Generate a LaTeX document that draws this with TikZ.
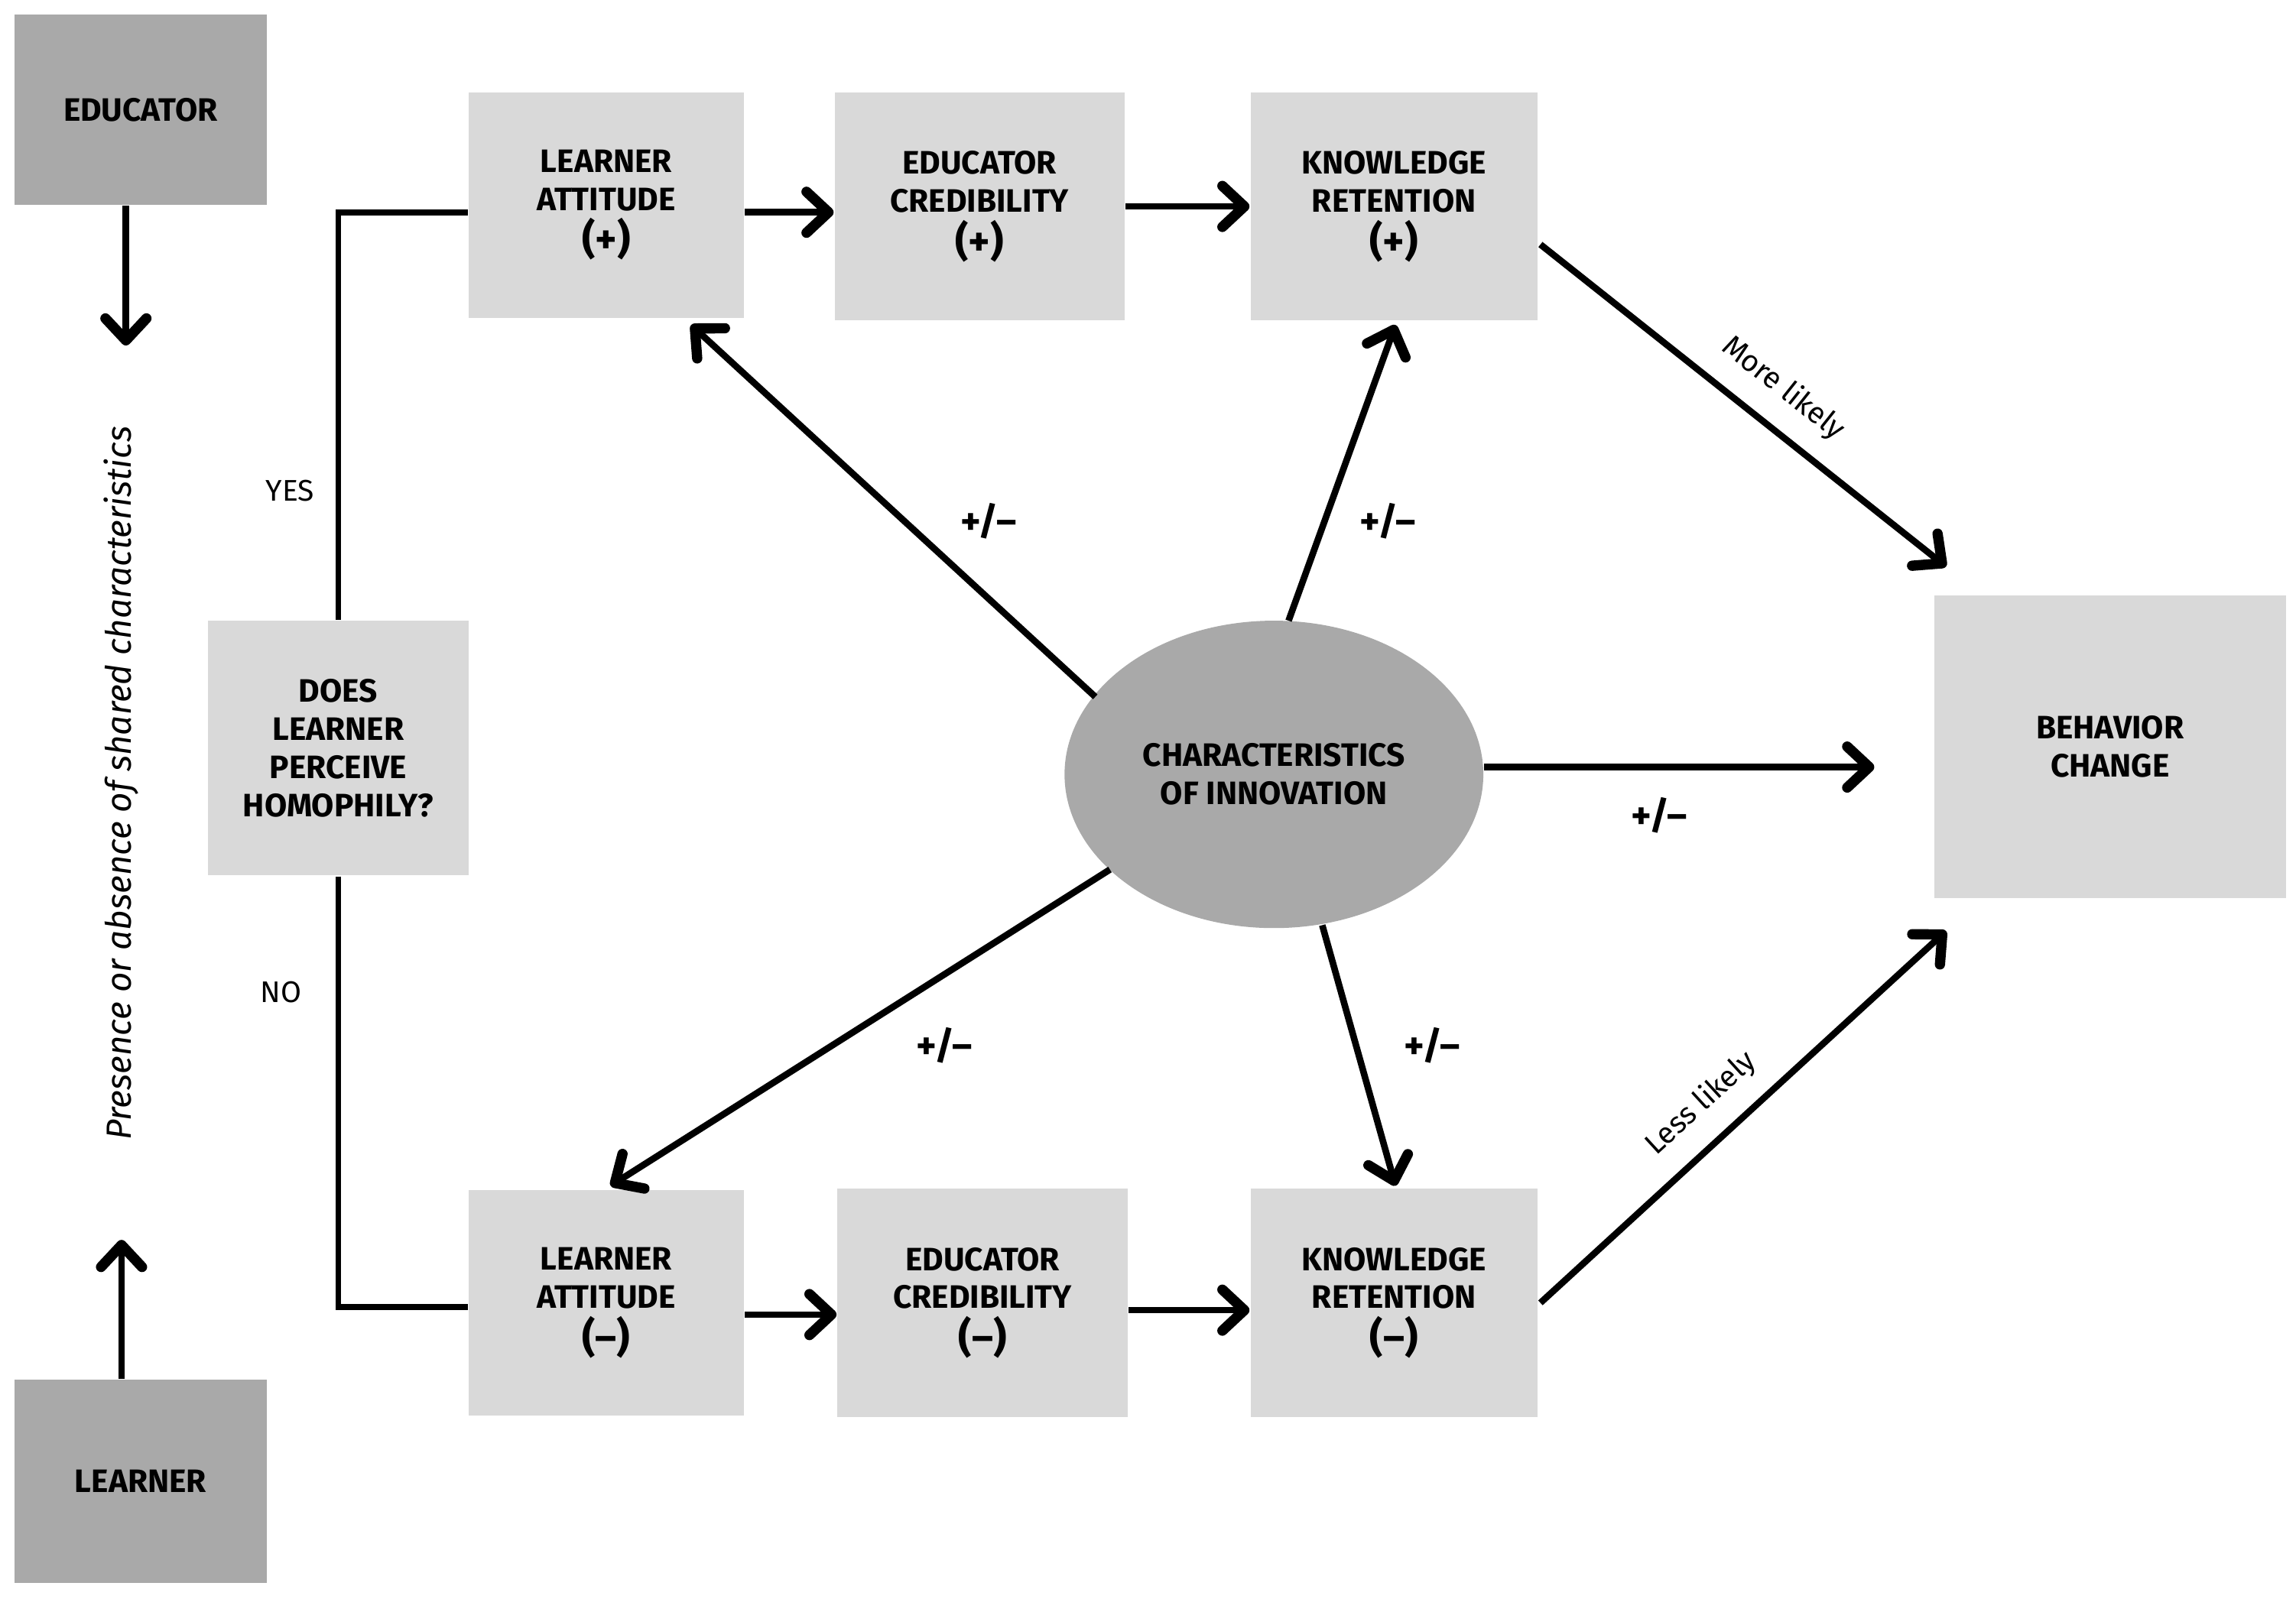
\documentclass[tikz,border=0pt]{standalone}
\usepackage{fontspec}
\setmainfont{Fira Sans}
\usetikzlibrary{arrows.meta,shapes.geometric}
\definecolor{dk}{HTML}{A9A9A9}
\definecolor{lt}{HTML}{D9D9D9}
\begin{document}
\begin{tikzpicture}[x=0.1mm,y=-0.1mm,
  box/.style={fill=lt,draw=none,align=center,font=\fontsize{6.3}{7.4}\selectfont\bfseries},
  dbox/.style={fill=dk,draw=none,align=center,font=\fontsize{6.3}{7.4}\selectfont\bfseries},
  ar/.style={line width=0.45mm,-{Straight Barb[length=1.5mm,width=2.8mm,line width=0.7mm,round]}},
  ln/.style={line width=0.4mm},
  pm/.style={font=\fontsize{7.5}{8}\selectfont\bfseries},
  lab/.style={font=\fontsize{5.8}{7}\selectfont}]
\useasboundingbox (0,0) rectangle (1568,1092);
\node[dbox,minimum width=17.2mm,minimum height=13mm] (edu) at (96,75) {EDUCATOR};
\node[dbox,minimum width=17.2mm,minimum height=13.9mm] (lrn) at (96,1012) {LEARNER};
\node[box,minimum width=18.8mm,minimum height=15.4mm] (la1) at (414,140) {LEARNER\\ATTITUDE\\[1pt]{\fontsize{8}{9}\selectfont (+)}};
\node[box,minimum width=19.8mm,minimum height=15.6mm] (ec1) at (669,141) {EDUCATOR\\CREDIBILITY\\[1pt]{\fontsize{8}{9}\selectfont (+)}};
\node[box,minimum width=19.6mm,minimum height=15.6mm] (kr1) at (952,141) {KNOWLEDGE\\RETENTION\\[1pt]{\fontsize{8}{9}\selectfont (+)}};
\node[box,minimum width=18.8mm,minimum height=15.4mm] (la2) at (414,890) {LEARNER\\ATTITUDE\\[1pt]{\fontsize{8}{9}\selectfont (–)}};
\node[box,minimum width=19.8mm,minimum height=15.6mm] (ec2) at (671,890) {EDUCATOR\\CREDIBILITY\\[1pt]{\fontsize{8}{9}\selectfont (–)}};
\node[box,minimum width=19.6mm,minimum height=15.6mm] (kr2) at (952,890) {KNOWLEDGE\\RETENTION\\[1pt]{\fontsize{8}{9}\selectfont (–)}};
\node[box,minimum width=17.8mm,minimum height=17.4mm] (hom) at (231,511) {DOES\\LEARNER\\PERCEIVE\\HOMOPHILY?};
\node[box,minimum width=24mm,minimum height=20.7mm] (bc) at (1441,510) {BEHAVIOR\\CHANGE};
\node[ellipse,fill=dk,minimum width=28.6mm,minimum height=21mm,inner sep=0pt,align=center,font=\fontsize{6.3}{7.4}\selectfont\bfseries] (ell) at (870,529) {CHARACTERISTICS\\OF INNOVATION};
\node[rotate=90,font=\fontsize{6.8}{8}\selectfont\itshape] (pres) at (83,535) {Presence or absence of shared characteristics};
\coordinate (e2) at (86,236);
\coordinate (l2) at (83,847);
\draw[ar] (edu.south -| e2) -- (e2);
\draw[ar] (lrn.north -| l2) -- (l2);
\coordinate (c1) at (231,145); \coordinate (c2) at (231,893);
\draw[ln] (hom.north) -- (c1) -- (c1 -| la1.west);
\draw[ln] (hom.south) -- (c2) -- (c2 -| la2.west);
\node[lab] (yes) at (198,335) {YES};
\node[lab] (no) at (192,678) {NO};
\draw[ar] (la1.east |- 0,145) -- (ec1.west |- 0,145);
\draw[ar] (ec1.east) -- (kr1.west);
\draw[ar] (la2.east |- 0,898) -- (ec2.west |- 0,898);
\draw[ar] (ec2.east |- 0,895) -- (kr2.west |- 0,895);
\coordinate (a1) at (748,476); \coordinate (b1) at (472,222);
\coordinate (a2) at (880,424); \coordinate (b2) at (953,222);
\coordinate (a3) at (758,594); \coordinate (b3) at (417,810);
\coordinate (a4) at (903,632); \coordinate (b4) at (953,810);
\coordinate (b5) at (1280,524);
\draw[ar] (a1) -- (b1);
\draw[ar] (a2) -- (b2);
\draw[ar] (a3) -- (b3);
\draw[ar] (a4) -- (b4);
\draw[ar] (ell.east |- b5) -- (b5);
\coordinate (k1) at (1052,167); \coordinate (t1) at (1329,387);
\coordinate (k2) at (1052,890); \coordinate (t2) at (1329,636);
\draw[ar] (k1) -- node[lab,sloped,above=0.2mm,pos=0.54] {More likely} (t1);
\draw[ar] (k2) -- node[lab,sloped,above=0.2mm,pos=0.46] {Less likely} (t2);
\node[pm] (p1) at (675,356) {+/–};
\node[pm] (p2) at (948,356) {+/–};
\node[pm] (p3) at (645,714) {+/–};
\node[pm] (p4) at (978,714) {+/–};
\node[pm] (p5) at (1133,557) {+/–};
\end{tikzpicture}
\end{document}
